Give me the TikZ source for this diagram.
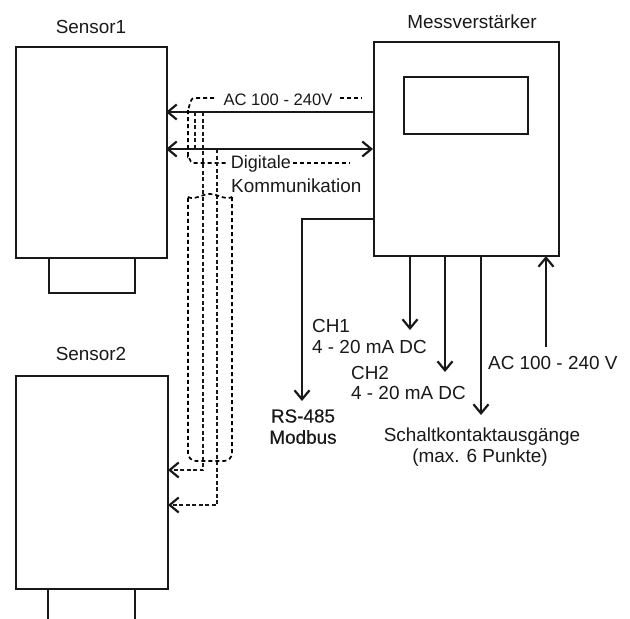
\documentclass[tikz,border=0pt]{standalone}
\usepackage{fontspec}
\setmainfont{Liberation Sans}
\newfontface\heavyface[FakeBold=0.35]{Liberation Sans}
\usetikzlibrary{arrows.meta,calc}
\tikzset{
  box/.style={draw=black!90,line width=1.8pt,rectangle,inner sep=0pt,anchor=north west},
  wire/.style={draw=black!90,line width=2pt},
  tiphead/.style={-{Straight Barb[length=9pt,width=15pt,line width=2.2pt]}},
  twotip/.style={{Straight Barb[length=9pt,width=15pt,line width=2.2pt]}-{Straight Barb[length=9pt,width=15pt,line width=2.2pt]}},
  dashwire/.style={draw=black!90,line width=2pt,dash pattern=on 4pt off 2.5pt},
  sleeve/.style={draw=black,line width=1.7pt,dash pattern=on 4pt off 3pt},
  lab/.style={font=\fontsize{18.9pt}{21pt}\selectfont,inner sep=0pt,text=black!90},
  lableft/.style={lab,anchor=west},
}
\begin{document}
\begin{tikzpicture}[x=1pt,y=-1pt]
\useasboundingbox (0,0) rectangle (630,619);
\fill[white] (0,0) rectangle (630,619);
% boxes
\node[box,minimum width=151pt,minimum height=211pt] (s1) at (15,46) {};
\node[box,minimum width=86pt,minimum height=35pt] (f1) at (48,257) {};
\node[box,minimum width=152pt,minimum height=213pt] (s2) at (15,375) {};
\node[box,minimum width=185pt,minimum height=214pt] (mv) at (373,41) {};
\node[box,minimum width=124pt,minimum height=57pt] (disp) at (403,76) {};
% sensor 2 foot
\coordinate (fa) at (48,588); \coordinate (fb) at (48,620);
\coordinate (fc) at (135,588); \coordinate (fd) at (135,620);
\draw[wire] (fa) -- (fb) (fc) -- (fd);
% titles
\node[lab] (t1) at (91,27) {Sensor1};
\node[lab] (t2) at (91,354) {Sensor2};
\node[lab] (t3) at (472,22) {Messverstärker};
% dashed cable labels
\node[lab,font=\fontsize{16.6pt}{19pt}\selectfont] (ac) at (278,100) {AC 100 - 240V};
\node[lab,font=\fontsize{18pt}{20pt}\selectfont] (dig) at (261,164) {Digitale};
\node[lableft] (kom) at (231,186) {Kommunikation};
% solid lines
\coordinate (a1) at (373,112); \coordinate (a2) at (166,112);
\coordinate (b1) at (373,149); \coordinate (b2) at (166,149);
\draw[wire,tiphead] (a1) -- (a2);
\draw[wire,twotip] (b1) -- (b2);
\coordinate (r1) at (373,219); \coordinate (r2) at (302,219); \coordinate (r3) at (302,401);
\draw[wire,tiphead] (r1) -- (r2) -- (r3);
\coordinate (c1) at (410,255); \coordinate (c2) at (410,330);
\coordinate (d1) at (445,255); \coordinate (d2) at (445,372);
\coordinate (e1) at (481,255); \coordinate (e2) at (481,415);
\coordinate (g1) at (546,347); \coordinate (g2) at (546,256);
\draw[wire,tiphead] (c1) -- (c2);
\draw[wire,tiphead] (d1) -- (d2);
\draw[wire,tiphead] (e1) -- (e2);
\draw[wire,tiphead] (g1) -- (g2);
% output labels
\node[lableft] (ch1) at (312,326) {CH1};
\node[lableft] (ma1) at (312,347) {4 - 20 mA DC};
\node[lableft] (ch2) at (351,373) {CH2};
\node[lableft] (ma2) at (351,393) {4 - 20 mA DC};
\node[lableft] (acin) at (488,363) {AC 100 - 240 V};
\node[lab] (rs) at (303,416) {\heavyface RS-485};
\node[lab] (mod) at (303,437) {\heavyface Modbus};
\node[lab] (sk) at (482,437) {Schaltkontaktausgänge};
\node[lab] (mp) at (480,458) {(max. 6 Punkte)};
% dashed upper cable
\coordinate (p1) at (214,98); \coordinate (p2) at (194,98); \coordinate (p3) at (188,108);
\coordinate (p4) at (188,156); \coordinate (p5) at (193,163); \coordinate (p6) at (228,163);
\draw[sleeve] (p1) -- (p2) to[out=180,in=-80] (p3) -- (p4) to[out=90,in=180] (p5) -- (p6);
\coordinate (q1) at (340,98); \coordinate (q2) at (362,98);
\draw[sleeve] (q1) -- (q2);
\coordinate (q3) at (293,163); \coordinate (q4) at (350,163);
\draw[sleeve] (q3) -- (q4);
\coordinate (u1) at (195,112); \coordinate (u2) at (195,149);
\draw[dashwire] (u1) -- (u2);
% inner conductors
\coordinate (v1) at (203,112); \coordinate (v2) at (203,470); \coordinate (v3) at (168,470);
\coordinate (w1) at (217,149); \coordinate (w2) at (217,505); \coordinate (w3) at (168,505);
\draw[dashwire,tiphead] (v1) -- (v2) -- (v3);
\draw[dashwire,tiphead] (w1) -- (w2) -- (w3);
% lower cable sleeve
\coordinate (k1) at (188,197); \coordinate (k2) at (232,197);
\coordinate (k3) at (232,461); \coordinate (k4) at (188,461);
\draw[sleeve] (k1) to[out=-25,in=180] ($(k1)!.5!(k2)+(0,-3)$) to[out=0,in=205] (k2);
\draw[sleeve,rounded corners=8pt] (k2) -- (k3) -- (k4) -- (k1);
\end{tikzpicture}
\end{document}
